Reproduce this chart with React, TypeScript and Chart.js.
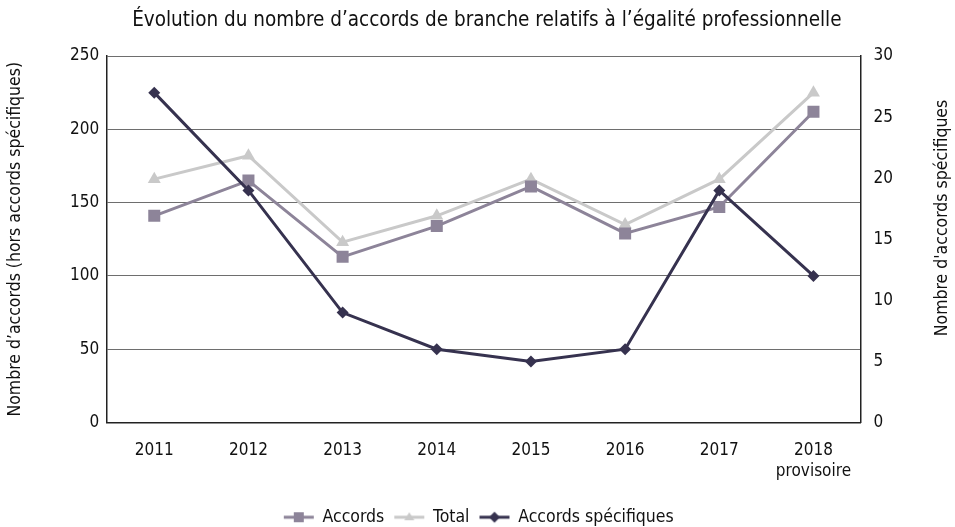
import React, { useEffect, useRef } from "react";
import { Chart, registerables } from "chart.js";

Chart.register(...registerables);

const categories: (string | string[])[] = ["2011", "2012", "2013", "2014", "2015", "2016", "2017", ["2018", "provisoire"]];
const accords = [141, 165, 113, 134, 161, 129, 147, 212];
const total = [166, 182, 123, 141, 166, 135, 166, 225];
const accordsSpecifiques = [27, 19, 9, 6, 5, 6, 19, 12];
const leftTicks = [0, 50, 100, 150, 200, 250];
const rightTicks = [0, 5, 10, 15, 20, 25, 30];

const TITLE = "Évolution du nombre d’accords de branche relatifs à l’égalité professionnelle";
const LEFT_TITLE = "Nombre d’accords (hors accords spécifiques)";
const RIGHT_TITLE = "Nombre d'accords spécifiques";

const FONT = "'Liberation Sans Narrow', 'DejaVu Sans Condensed', sans-serif";
const C_ACC = "#8d8499";
const C_TOT = "#c9c9c9";
const C_SPE = "#36324f";
const TXT = "#111";

function legendImage(color: string, shape: "rect" | "triangle" | "diamond"): HTMLCanvasElement {
  const c = document.createElement("canvas");
  c.width = 36;
  c.height = 14;
  const ctx = c.getContext("2d")!;
  ctx.strokeStyle = color;
  ctx.fillStyle = color;
  ctx.lineWidth = 3;
  ctx.beginPath();
  ctx.moveTo(3, 7);
  ctx.lineTo(33, 7);
  ctx.stroke();
  ctx.beginPath();
  if (shape === "rect") {
    ctx.rect(13, 2, 10, 10);
  } else if (shape === "triangle") {
    ctx.moveTo(18, 2);
    ctx.lineTo(23, 10);
    ctx.lineTo(13, 10);
    ctx.closePath();
  } else {
    ctx.moveTo(18, 1.5);
    ctx.lineTo(23.5, 7);
    ctx.lineTo(18, 12.5);
    ctx.lineTo(12.5, 7);
    ctx.closePath();
  }
  ctx.fill();
  return c;
}

const textPlugin = {
  id: "customTexts",
  afterDraw(chart: any) {
    const ctx = chart.ctx;
    const ca = chart.chartArea;
    ctx.save();
    ctx.fillStyle = TXT;
    ctx.textAlign = "center";
    ctx.textBaseline = "middle";
    ctx.font = `20.5px ${FONT}`;
    ctx.fillText(TITLE, (ca.left + ca.right) / 2 + 3, 21);
    const y1 = chart.scales.y1;
    ctx.font = `17.5px ${FONT}`;
    ctx.translate(y1.right - 10.5, 218);
    ctx.rotate(-Math.PI / 2);
    ctx.fillText(RIGHT_TITLE, 0, 0);
    ctx.restore();
  },
};

export default function App() {
  const ref = useRef<HTMLCanvasElement | null>(null);

  useEffect(() => {
    if (!ref.current) return;
    const imgs = [
      legendImage(C_ACC, "rect"),
      legendImage(C_TOT, "triangle"),
      legendImage(C_SPE, "diamond"),
    ];
    const chart = new Chart(ref.current, {
      type: "line",
      data: {
        labels: categories,
        datasets: [
          {
            label: "Accords",
            data: accords,
            yAxisID: "y",
            borderColor: C_ACC,
            backgroundColor: C_ACC,
            borderWidth: 3,
            pointStyle: "rect",
            pointRadius: 8.5,
            pointBorderWidth: 0,
            order: 2,
          },
          {
            label: "Total",
            data: total,
            yAxisID: "y",
            borderColor: C_TOT,
            backgroundColor: C_TOT,
            borderWidth: 3,
            pointStyle: "triangle",
            pointRadius: 7.5,
            pointBorderWidth: 0,
            order: 3,
          },
          {
            label: "Accords spécifiques",
            data: accordsSpecifiques,
            yAxisID: "y1",
            borderColor: C_SPE,
            backgroundColor: C_SPE,
            borderWidth: 3,
            pointStyle: "rectRot",
            pointRadius: 6,
            pointBorderWidth: 0,
            order: 1,
          },
        ],
      },
      options: {
        animation: false,
        responsive: false,
        events: [],
        layout: { padding: { left: 5, right: 2.5, top: 0, bottom: -9 } },
        plugins: {
          title: {
            display: true,
            text: TITLE,
            color: "rgba(0,0,0,0)",
            font: { family: FONT, size: 20.5, weight: "normal" },
            padding: { top: 9, bottom: 22.4 },
          },
          legend: {
            position: "bottom",
            labels: {
              usePointStyle: true,
              pointStyleWidth: 30,
              color: TXT,
              font: { family: FONT, size: 17.5 },
              padding: 10,
              generateLabels: (ch: any) =>
                ch.data.datasets.map((ds: any, i: number) => ({
                  text: ds.label,
                  pointStyle: imgs[i],
                  fillStyle: ds.borderColor,
                  strokeStyle: ds.borderColor,
                  lineWidth: 0,
                  hidden: false,
                  datasetIndex: i,
                  fontColor: TXT,
                })),
            },
          },
          tooltip: { enabled: false },
        },
        scales: {
          x: {
            offset: true,
            grid: { display: false },
            border: { display: true, color: "#222", width: 1.5 },
            ticks: {
              color: TXT,
              font: { family: FONT, size: 17 },
              padding: 10,
              maxRotation: 0,
            },
            afterFit: (s: any) => {
              s.height = 76;
            },
          },
          y: {
            position: "left",
            min: 0,
            max: 250,
            afterBuildTicks: (s: any) => {
              s.ticks = leftTicks.map((v) => ({ value: v }));
            },
            grid: { color: "#6e6e6e", lineWidth: 1, drawTicks: false },
            border: { display: true, color: "#222", width: 1.5 },
            ticks: {
              color: TXT,
              font: { family: FONT, size: 17 },
              padding: 8,
            },
            title: {
              display: true,
              text: LEFT_TITLE,
              color: TXT,
              font: { family: FONT, size: 17.5 },
              padding: { top: 0, bottom: 36 },
            },
          },
          y1: {
            position: "right",
            min: 0,
            max: 30,
            afterBuildTicks: (s: any) => {
              s.ticks = rightTicks.map((v) => ({ value: v }));
            },
            grid: { drawOnChartArea: false, drawTicks: false },
            border: { display: true, color: "#222", width: 1.5 },
            ticks: {
              color: TXT,
              font: { family: FONT, size: 17 },
              padding: 13,
            },
            title: {
              display: true,
              text: RIGHT_TITLE,
              color: "rgba(0,0,0,0)",
              font: { family: FONT, size: 17.5 },
              padding: { top: 0, bottom: 25.5 },
            },
          },
        },
      },
      plugins: [textPlugin],
    } as any);
    return () => chart.destroy();
  }, []);

  return (
    <div style={{ position: "absolute", left: 0, top: 0, width: 955, height: 527, background: "#fff" }}>
      <canvas ref={ref} width={955} height={527} style={{ display: "block" }} />
    </div>
  );
}
